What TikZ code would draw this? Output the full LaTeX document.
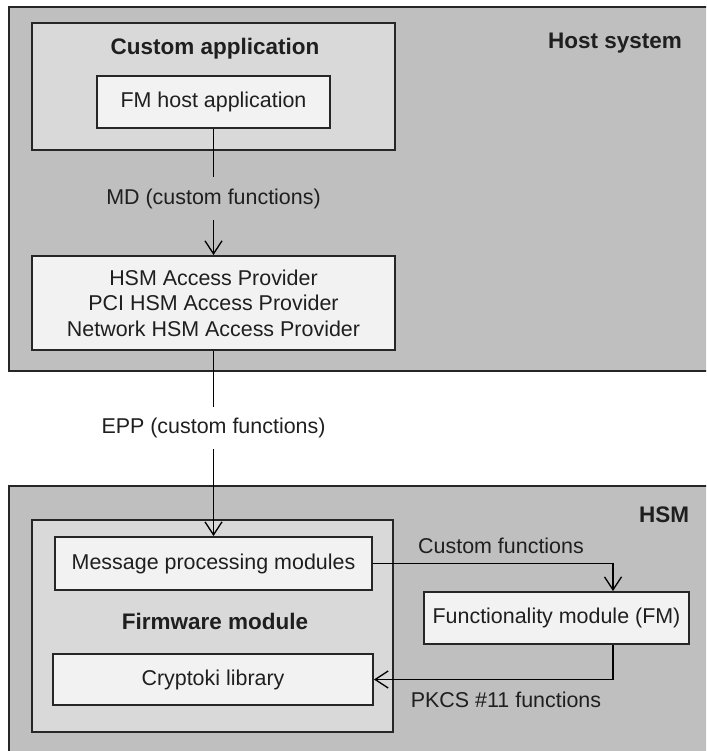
\documentclass[tikz,border=0pt]{standalone}
\usepackage{fontspec}
\setmainfont{Liberation Sans}
\usetikzlibrary{calc,positioning,arrows.meta}
\definecolor{sysgray}{HTML}{BFBFBF}
\definecolor{modgray}{HTML}{D9D9D9}
\definecolor{boxgray}{HTML}{F2F2F2}
\definecolor{edge}{HTML}{262626}

\begin{document}
\begin{tikzpicture}[>={Straight Barb[length=2.6mm,width=3.4mm]},
    font=\fontsize{12.2}{14.6}\selectfont, text=black!88, line width=0.75pt,
    box/.style={draw=edge,line width=1.1pt,fill=boxgray,inner sep=0pt,align=center},
    module/.style={draw=edge,line width=1.1pt,fill=modgray,inner sep=0pt},
    heading/.style={font=\fontsize{12.8}{15}\selectfont\bfseries},
    flow/.style={inner sep=0pt,minimum height=0.83cm}]
    \useasboundingbox (0,0) rectangle (14.12,-15.02);
    \clip (0,0) rectangle (14.12,-15.02);

    % host side
    \draw [edge,line width=1.1pt,fill=sysgray] (0.18,-0.14) rectangle (14.6,-7.42);
    \node [heading] (hostlbl) at (12.3,-0.86) {Host system};
    \node [module,minimum width=7.26cm,minimum height=2.54cm] (custapp) at (4.27,-1.73) {};
    \node [heading] (custlbl) at (4.3,-0.98) {Custom application};
    \node [box,minimum width=4.66cm,minimum height=1.04cm] (fmhost) at (4.27,-2.04) {FM host application};
    \node [flow] (md) at (4.27,-3.97) {MD (custom functions)};
    \node [box,minimum width=7.26cm,minimum height=1.88cm] (hap) at (4.27,-6.06)
        {HSM Access Provider\\PCI HSM Access Provider\\Network HSM Access Provider};
    \draw (fmhost) -- (md);
    \draw [->] (md) -- (hap);

    % HSM side
    \draw [edge,line width=1.1pt,fill=sysgray] (0.18,-9.72) rectangle (14.6,-15.4);
    \node [heading] (hsmlbl) at (13.28,-10.3) {HSM};
    \node [module,minimum width=7.22cm,minimum height=4.24cm] (fw) at (4.25,-12.52) {};
    \node [heading] (fwlbl) at (4.3,-12.42) {Firmware module};
    \node [box,minimum width=6.34cm,minimum height=1.06cm] (msg) at (4.27,-11.27) {Message processing modules};
    \node [box,minimum width=6.4cm,minimum height=1.02cm] (crypto) at (4.26,-13.59) {Cryptoki library};
    \node [box,minimum width=5.3cm,minimum height=1.04cm] (fm) at (11.13,-12.36) {Functionality module (FM)};
    \node [flow] (epp) at (4.27,-8.56) {EPP (custom functions)};
    \draw (hap) -- (epp);
    \draw [->] (epp) -- (msg);

    \node (custfn) at (10.02,-10.92) {Custom functions};
    \node (pkcs) at (10.12,-14.0) {PKCS \#11 functions};
    \draw [->] (msg.east) -| ($(fm.north)+(1.13,0)$);
    \draw [->] ($(fm.south)+(1.13,0)$) |- (crypto.east);
\end{tikzpicture}
\end{document}
